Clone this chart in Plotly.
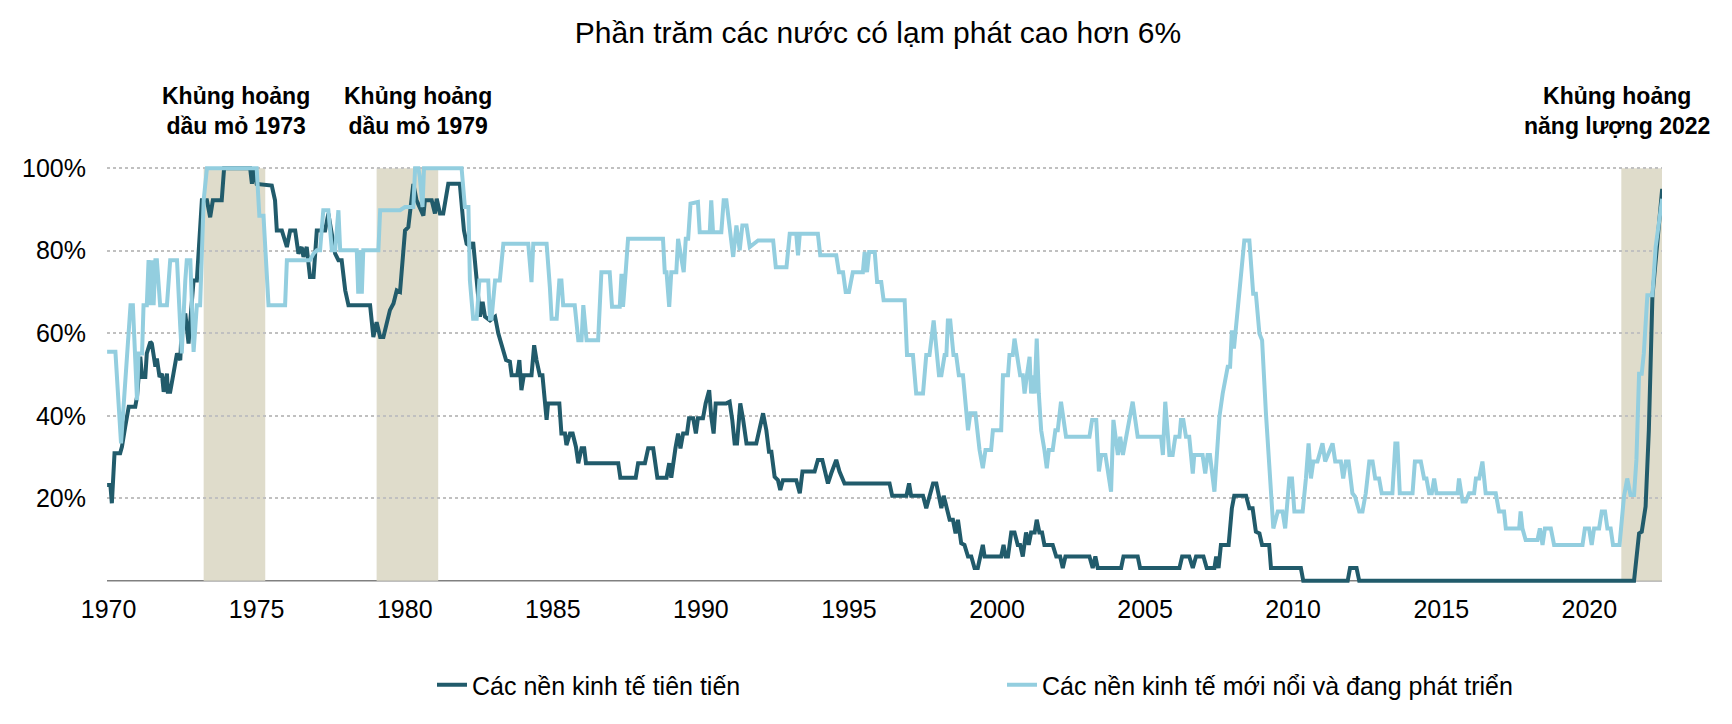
import plotly.graph_objects as go

# ---------------- data ----------------
adv_years = [1969.95, 1970.06, 1970.11, 1970.2, 1970.39, 1970.45, 1970.56, 1970.68, 1970.9, 1970.96,
             1971.07, 1971.13, 1971.24, 1971.29, 1971.41, 1971.46, 1971.58, 1971.63, 1971.72, 1971.8,
             1971.86, 1971.97, 1972.0, 1972.08, 1972.19, 1972.31, 1972.42, 1972.47, 1972.59, 1972.7,
             1972.76, 1972.87, 1972.98, 1973.06, 1973.15, 1973.32, 1973.43, 1973.52, 1973.82, 1973.9,
             1974.78, 1974.84, 1974.89, 1975.0, 1975.51, 1975.62, 1975.68, 1975.85, 1975.96, 1976.02,
             1976.13, 1976.3, 1976.41, 1976.52, 1976.58, 1976.69, 1976.8, 1976.92, 1977.03, 1977.31,
             1977.42, 1977.54, 1977.65, 1977.76, 1977.87, 1977.99, 1978.1, 1978.83, 1978.94, 1979.05,
             1979.17, 1979.28, 1979.39, 1979.5, 1979.62, 1979.73, 1979.84,
             1980.01, 1980.12, 1980.23, 1980.29, 1980.4, 1980.63, 1980.68, 1980.91, 1981.02, 1981.08,
             1981.19, 1981.3, 1981.47, 1981.86, 1982.0, 1982.09, 1982.26, 1982.31, 1982.43, 1982.54,
             1982.63, 1982.71, 1982.88, 1983.05, 1983.16, 1983.27, 1983.42, 1983.55, 1983.61, 1983.8,
             1983.87, 1983.94, 1984.02, 1984.28, 1984.37, 1984.45, 1984.56, 1984.65, 1984.73, 1984.79,
             1984.84, 1985.22, 1985.29, 1985.41, 1985.46, 1985.58, 1985.67, 1985.78, 1985.86, 1985.97,
             1986.06, 1986.12, 1987.21, 1987.28, 1987.8, 1987.88, 1988.11, 1988.22, 1988.39, 1988.53,
             1988.84, 1988.93, 1989.0, 1989.06, 1989.14, 1989.23, 1989.31, 1989.4, 1989.53, 1989.6,
             1989.74, 1989.83, 1989.9, 1990.07, 1990.16, 1990.28, 1990.35, 1990.43, 1990.5, 1990.86,
             1990.97, 1991.06, 1991.14, 1991.22, 1991.33, 1991.42, 1991.54, 1991.87, 1991.96, 1992.1,
             1992.21, 1992.3, 1992.38, 1992.49, 1992.6, 1992.68, 1992.77, 1993.22, 1993.34, 1993.43,
             1993.84, 1993.95, 1994.1, 1994.18, 1994.29, 1994.4, 1994.57, 1994.68, 1994.85,
             1996.37, 1996.46, 1996.94, 1997.03, 1997.1, 1997.5, 1997.61, 1997.72, 1997.84, 1997.95,
             1998.04, 1998.12, 1998.2, 1998.29, 1998.4, 1998.51, 1998.6, 1998.68, 1998.79, 1998.9,
             1999.02, 1999.13, 1999.24, 1999.35, 1999.52, 1999.58, 2000.14, 2000.22, 2000.29, 2000.37,
             2000.48, 2000.59, 2000.7, 2000.78, 2000.87, 2000.98, 2001.07, 2001.15, 2001.27, 2001.34,
             2001.43, 2001.52, 2001.6, 2001.88, 2002.0, 2002.13, 2002.22, 2002.31, 2003.12, 2003.23,
             2003.32, 2003.4, 2004.19, 2004.27, 2004.75, 2004.83, 2006.16, 2006.25, 2006.49, 2006.61,
             2006.72, 2006.97, 2007.08, 2007.34, 2007.4, 2007.48, 2007.56, 2007.82, 2007.93, 2008.01,
             2008.41, 2008.52, 2008.63, 2008.74, 2008.86, 2008.95, 2009.19, 2009.25, 2010.26, 2010.34,
             2011.84, 2011.92, 2012.14, 2012.23, 2021.51, 2021.68, 2021.77, 2021.9, 2022.01, 2022.13,
             2022.46]
adv_values = [23.2, 23.2, 18.8, 30.9, 30.9, 32.5, 37.3, 42.2, 42.2, 44.6,
              54.3, 49.4, 49.4, 55.1, 57.9, 57.5, 51.9, 53.9, 49.4, 50.2,
              45.8, 50.2, 45.8, 45.8, 50.2, 55.1, 53.5, 61.5, 64.8, 57.5,
              63.1, 72.8, 72.8, 80.9, 92.2, 92.2, 88.1, 92.2, 92.2, 100,
              100, 96.2, 100, 96.2, 95.8, 92.2, 84.9, 84.9, 82.5, 80.9,
              84.9, 84.9, 79.3, 80.9, 78.5, 80.9, 73.6, 73.6, 84.9, 84.9,
              89.0, 84.1, 79.3, 77.7, 77.7, 70.4, 66.8, 66.8, 59.1, 62.7,
              59.1, 59.1, 62.7, 65.6, 67.2, 70.4, 70.0,
              84.9, 85.7, 93.8, 96.2, 92.2, 88.5, 92.2, 92.2, 89.0, 92.6,
              89.0, 89.0, 96.2, 96.2, 84.9, 81.7, 80.9, 82.1, 72.8, 64.0,
              67.6, 64.0, 63.1, 64.0, 59.9, 57.1, 53.5, 53.1, 49.8, 49.8,
              53.5, 46.2, 49.8, 49.8, 57.1, 53.5, 49.8, 49.8, 42.2, 39.0,
              43.0, 43.0, 35.7, 35.7, 32.9, 35.7, 35.7, 32.5, 28.5, 32.1,
              32.1, 28.5, 28.5, 25.0, 25.0, 28.5, 28.5, 32.1, 32.1, 25.0,
              25.0, 28.5, 25.0, 28.5, 32.1, 35.7, 32.1, 35.7, 35.7, 39.4,
              39.4, 35.7, 39.4, 39.4, 43.0, 46.2, 39.8, 35.7, 43.0, 43.0,
              43.4, 39.0, 33.3, 33.3, 43.0, 39.4, 33.3, 33.3, 36.5, 40.6,
              36.5, 31.3, 31.3, 25.2, 24.4, 22.0, 24.4, 24.4, 21.2, 26.5,
              26.5, 29.3, 29.3, 26.5, 23.6, 26.0, 29.3, 26.5, 23.6,
              23.6, 20.6, 20.6, 23.6, 20.6, 20.6, 17.6, 20.6, 23.6, 23.6,
              20.6, 17.6, 20.6, 17.6, 14.8, 14.8, 11.5, 14.8, 9.1, 8.7,
              5.9, 5.9, 3.1, 3.1, 8.7, 5.9, 5.9, 8.7, 5.9, 5.9,
              11.7, 11.7, 8.7, 8.7, 5.9, 11.7, 8.7, 11.7, 11.7, 14.8,
              11.7, 11.7, 8.7, 8.7, 5.9, 5.9, 3.1, 5.9, 5.9, 3.1,
              5.9, 3.1, 3.1, 5.9, 5.9, 3.1, 3.1, 5.9, 5.9, 3.1,
              5.9, 5.9, 3.1, 3.1, 5.9, 3.1, 8.7, 8.7, 17.6, 20.6,
              20.6, 17.6, 17.6, 11.9, 11.5, 8.7, 8.7, 3.1, 3.1, 0,
              0, 3.1, 3.1, 0, 0, 11.5, 11.9, 18.0, 36.5, 68.8,
              95.0]

emg_years = [1969.95, 1970.23, 1970.42, 1970.74, 1970.82, 1970.96, 1971.01, 1971.13, 1971.18, 1971.29,
             1971.35, 1971.41, 1971.46, 1971.52, 1971.58, 1971.63, 1971.74, 1971.97, 1972.08, 1972.31,
             1972.42, 1972.47, 1972.59, 1972.64, 1972.76, 1972.81, 1972.87, 1972.98, 1973.09, 1973.21,
             1973.32, 1975.0, 1975.09, 1975.23, 1975.4, 1975.96, 1976.02, 1976.8, 1976.92, 1977.03,
             1977.14, 1977.25, 1977.42, 1977.54, 1977.65, 1977.76, 1977.82, 1978.38, 1978.43, 1978.49,
             1978.55, 1978.6, 1979.11, 1979.17, 1979.84, 1980.01, 1980.29, 1980.35, 1980.46, 1980.51,
             1980.6, 1980.65, 1981.92, 1982.03, 1982.15, 1982.2, 1982.31, 1982.43, 1982.52, 1982.82,
             1982.88, 1982.93, 1983.05, 1983.21, 1983.33, 1984.17, 1984.28, 1984.34, 1984.79, 1984.9,
             1984.96, 1985.13, 1985.22, 1985.29, 1985.35, 1985.74, 1985.86, 1985.97, 1986.03, 1986.14,
             1986.53, 1986.64, 1986.92, 1987.0, 1987.26, 1987.32, 1987.37, 1987.46, 1987.54, 1988.72,
             1988.78, 1988.84, 1988.93, 1989.0, 1989.17, 1989.23, 1989.34, 1989.42, 1989.49, 1989.57,
             1989.65, 1989.9, 1989.96, 1990.3, 1990.35, 1990.41, 1990.69, 1990.77, 1990.86, 1990.97,
             1991.09, 1991.2, 1991.31, 1991.4, 1991.54, 1991.65, 1991.93, 1992.44, 1992.53, 1992.89,
             1993.0, 1993.22, 1993.28, 1993.34, 1993.95, 1994.03, 1994.57, 1994.66, 1994.8, 1994.89,
             1995.0, 1995.13, 1995.47, 1995.53, 1995.61, 1995.68, 1995.87, 1995.95, 1996.09, 1996.17,
             1996.88, 1996.96, 1997.16, 1997.27, 1997.5, 1997.61, 1997.72, 1997.86, 1997.97, 1998.04,
             1998.12, 1998.23, 1998.29, 1998.34, 1998.42, 1998.53, 1998.62, 1998.71, 1998.85, 1998.96,
             1999.02, 1999.1, 1999.27, 1999.41, 1999.52, 1999.61, 1999.8, 1999.86, 2000.14, 2000.2,
             2000.37, 2000.42, 2000.53, 2000.59, 2000.7, 2000.78, 2000.87, 2000.93, 2001.01, 2001.1,
             2001.15, 2001.21, 2001.27, 2001.34, 2001.41, 2001.49, 2001.6, 2001.68, 2001.75, 2001.88,
             2001.97, 2002.05, 2002.16, 2002.28, 2002.33, 2003.12, 2003.21, 2003.35, 2003.44, 2003.52,
             2003.66, 2003.85, 2003.93, 2004.08, 2004.16, 2004.25, 2004.36, 2004.47, 2004.58, 2004.75,
             2005.54, 2005.6, 2005.68, 2005.82, 2005.93, 2006.02, 2006.16, 2006.21, 2006.29, 2006.38,
             2006.49, 2006.61, 2006.66, 2006.94, 2007.03, 2007.11, 2007.19, 2007.34, 2007.51, 2007.62,
             2007.79, 2007.87, 2007.93, 2008.0, 2008.06, 2008.18, 2008.35, 2008.52, 2008.65, 2008.74,
             2008.86, 2008.95, 2009.08, 2009.33, 2009.48, 2009.64, 2009.73, 2009.87, 2009.96, 2010.04,
             2010.32, 2010.43, 2010.52, 2010.6, 2010.68, 2010.82, 2010.99, 2011.08, 2011.33, 2011.42,
             2011.61, 2011.69, 2011.78, 2011.87, 2012.0, 2012.09, 2012.23, 2012.34, 2012.45, 2012.57,
             2012.68, 2012.77, 2012.9, 2012.99, 2013.35, 2013.45, 2013.52, 2013.6, 2014.03, 2014.11,
             2014.31, 2014.42, 2014.5, 2014.59, 2014.68, 2014.76, 2014.84, 2015.55, 2015.6, 2015.72,
             2015.83, 2015.94, 2016.11, 2016.17, 2016.28, 2016.39, 2016.5, 2016.84, 2016.89, 2016.95,
             2017.12, 2017.18, 2017.63, 2017.68, 2017.74, 2017.85, 2018.25, 2018.33, 2018.42, 2018.5,
             2018.7, 2018.81, 2019.77, 2019.85, 2019.99, 2020.08, 2020.16, 2020.33, 2020.42, 2020.53,
             2020.61, 2020.72, 2020.8, 2021.02, 2021.17, 2021.28, 2021.39, 2021.51, 2021.59, 2021.68,
             2021.77, 2021.84, 2021.96, 2022.13, 2022.24, 2022.46]
emg_values = [55.5, 55.5, 33.3, 66.8, 66.8, 43.8, 55.1, 55.1, 66.8, 66.8,
              77.7, 66.8, 77.7, 66.8, 77.7, 77.7, 66.8, 66.8, 77.7, 77.7,
              61.5, 55.1, 72.8, 77.7, 77.7, 66.4, 55.5, 66.8, 66.8, 92.2,
              100, 100, 88.5, 88.5, 66.8, 66.8, 77.7, 77.7, 79.3, 80.1,
              80.1, 89.8, 89.8, 80.1, 80.1, 89.8, 80.1, 80.1, 69.6, 80.1,
              69.6, 80.1, 80.1, 89.8, 89.8, 90.6, 90.6, 100, 100, 97.8,
              90.6, 100, 100, 90.6, 90.6, 72.8, 63.5, 63.5, 72.8, 72.8,
              63.5, 63.5, 72.8, 72.8, 81.7, 81.7, 72.4, 81.7, 81.7, 71.2,
              63.5, 63.5, 72.8, 72.8, 66.8, 66.8, 58.3, 58.3, 66.8, 58.3,
              58.3, 74.8, 74.8, 66.4, 66.4, 74.4, 66.4, 74.8, 82.9, 82.9,
              74.8, 74.8, 66.4, 74.8, 74.8, 82.9, 77.7, 74.8, 82.9, 82.9,
              91.4, 91.8, 84.5, 84.5, 92.2, 84.5, 84.5, 92.2, 92.2, 85.3,
              78.5, 86.1, 80.1, 86.1, 86.1, 80.9, 82.5, 82.5, 76.0, 76.0,
              84.1, 84.1, 78.9, 84.1, 84.1, 78.9, 78.9, 74.8, 74.8, 70.0,
              70.0, 74.8, 74.8, 79.7, 74.8, 79.7, 79.7, 72.4, 72.4, 68.0,
              68.0, 54.7, 54.7, 45.4, 45.4, 54.7, 54.7, 63.1, 54.3, 49.8,
              49.8, 54.7, 54.7, 63.1, 63.1, 54.7, 54.7, 49.8, 49.8, 40.6,
              36.5, 40.6, 40.6, 31.7, 27.3, 31.7, 31.7, 36.5, 36.5, 49.8,
              49.8, 54.7, 54.7, 58.7, 54.3, 49.8, 49.8, 45.4, 49.8, 54.3,
              45.4, 49.8, 45.4, 58.7, 45.4, 36.5, 31.7, 27.3, 31.7, 31.7,
              36.5, 36.5, 43.4, 36.5, 34.9, 34.9, 39.0, 39.0, 26.5, 30.5,
              30.5, 21.6, 39.0, 30.5, 34.9, 30.5, 34.9, 39.0, 43.4, 34.9,
              34.9, 30.5, 43.4, 30.5, 30.5, 34.9, 34.9, 39.0, 39.0, 34.9,
              34.9, 26.0, 30.5, 30.5, 26.0, 30.5, 30.5, 21.6, 39.8, 45.4,
              51.9, 51.9, 60.7, 56.3, 60.7, 71.2, 82.5, 82.5, 69.6, 69.6,
              59.9, 58.3, 40.6, 12.7, 16.8, 16.8, 12.7, 24.8, 24.8, 16.8,
              16.8, 24.8, 33.3, 24.8, 28.9, 28.9, 33.3, 28.9, 33.3, 28.9,
              28.9, 24.8, 28.9, 28.9, 21.2, 20.4, 16.8, 16.8, 21.2, 28.9,
              28.9, 24.8, 24.8, 21.2, 21.2, 33.3, 33.3, 21.2, 21.2, 28.9,
              28.9, 24.8, 24.8, 21.2, 21.2, 24.8, 21.2, 21.2, 24.8, 19.2,
              19.2, 21.2, 21.2, 24.8, 24.8, 28.9, 21.2, 21.2, 19.2, 16.8,
              16.8, 12.7, 12.7, 16.8, 12.7, 9.9, 9.9, 12.7, 8.7, 12.7,
              12.7, 8.7, 8.7, 12.7, 12.7, 8.7, 12.7, 12.7, 16.8, 16.8,
              12.7, 12.7, 8.7, 8.7, 20.4, 24.8, 20.8, 20.8, 29.3, 50.2,
              50.2, 55.1, 69.2, 69.2, 80.9, 92.6]

crisis_starts = [1973.21, 1979.05, 2021.08]
crisis_ends = [1975.29, 1981.13, 2022.46]
crisis_labels = ["Khủng hoảng<br>dầu mỏ 1973", "Khủng hoảng<br>dầu mỏ 1979", "Khủng hoảng<br>năng lượng 2022"]
crisis_label_x = [1974.3, 1980.45, 2020.92]

x_ticks = [1970, 1975, 1980, 1985, 1990, 1995, 2000, 2005, 2010, 2015, 2020]
y_ticks = [20, 40, 60, 80, 100]
y_tick_text = ["20%", "40%", "60%", "80%", "100%"]

series_names = ["Các nền kinh tế tiên tiến", "Các nền kinh tế mới nổi và đang phát triển"]
title_text = "Phần trăm các nước có lạm phát cao hơn 6%"

# ---------------- styling ----------------
FONT = "Arial, 'Liberation Sans', sans-serif"
DARK = "#215b6b"
LIGHT = "#93cedf"
SHADE = "#dfdccb"

W, H = 1724, 716          # page body has an 8px margin in the browser
L, R, T, B = 99, 70, 154, 137

fig = go.Figure()
fig.add_trace(go.Scatter(x=adv_years, y=adv_values, mode="lines", name=series_names[0],
                         line=dict(color=DARK, width=4)))
fig.add_trace(go.Scatter(x=emg_years, y=emg_values, mode="lines", name=series_names[1],
                         line=dict(color=LIGHT, width=4)))

shapes = []
for s, e in zip(crisis_starts, crisis_ends):
    shapes.append(dict(type="rect", xref="x", yref="y", x0=s, x1=e, y0=0, y1=100,
                       fillcolor=SHADE, line=dict(width=0), layer="below"))
shapes.append(dict(type="line", xref="paper", yref="y", x0=0, x1=1, y0=0, y1=0,
                   line=dict(color="#808080", width=1.5), layer="below"))

plot_h = H - T - B
label_y = (H - B - 103) / plot_h
annotations = []
for lx, lt in zip(crisis_label_x, crisis_labels):
    annotations.append(dict(x=lx, xref="x", y=label_y, yref="paper", text=lt, showarrow=False,
                            xanchor="center", yanchor="middle", align="center",
                            font=dict(family=FONT, size=23, color="black", weight="bold")))

fig.update_layout(
    width=W, height=H,
    margin=dict(l=L, r=R, t=T, b=B, autoexpand=False),
    paper_bgcolor="white", plot_bgcolor="white",
    font=dict(family=FONT, size=25, color="black"),
    title=dict(text=title_text, x=870 / W, xref="container", xanchor="center",
               y=1 - 24 / H, yref="container", yanchor="middle",
               font=dict(family=FONT, size=30, color="black")),
    xaxis=dict(range=[1969.946, 2022.454], tickvals=x_ticks, ticktext=[str(v) for v in x_ticks],
               showgrid=False, zeroline=False, showline=False, ticks="",
               ticklabelstandoff=5, tickfont=dict(size=25, color="black")),
    yaxis=dict(range=[-1.5, 101.5], tickvals=y_ticks, ticktext=y_tick_text,
               showgrid=True, gridcolor="#c0c0c0", griddash="dot", gridwidth=1.5,
               zeroline=False, showline=False, ticks="", ticklabelstandoff=20,
               tickfont=dict(size=25, color="black")),
    shapes=shapes,
    annotations=annotations,
    showlegend=True,
    legend=dict(orientation="h", xref="container", yref="container", x=424 / W, y=1 - 677 / H,
                xanchor="left", yanchor="middle", entrywidth=525, font=dict(size=25, color="black"),
                bgcolor="rgba(0,0,0,0)"),
)

fig.write_html("out.html")
